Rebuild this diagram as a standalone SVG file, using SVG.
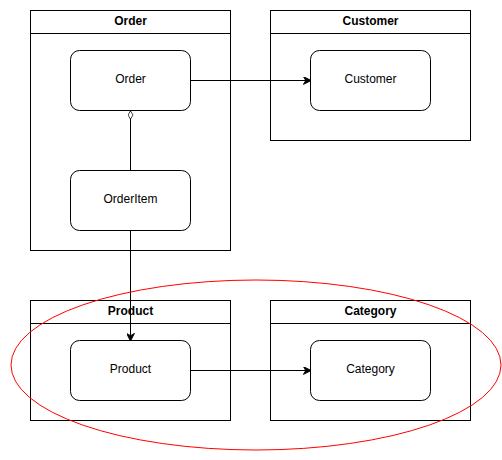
<svg xmlns="http://www.w3.org/2000/svg" width="502" height="460" viewBox="0 0 502 460">
  <style>
    .frame { fill: #ffffff; stroke: #000000; stroke-width: 1; }
    .node { fill: #ffffff; stroke: #000000; stroke-width: 1; }
    .title { font-family: "Liberation Sans", Arial, sans-serif; font-size: 12px; font-weight: bold; fill: #000000; text-anchor: middle; }
    .label { font-family: "Liberation Sans", Arial, sans-serif; font-size: 12px; fill: #000000; text-anchor: middle; }
    .edge { fill: none; stroke: #000000; stroke-width: 1; }
  </style>
  <defs>
    <marker id="arrow" viewBox="0 0 10 10" refX="9" refY="5" markerWidth="8" markerHeight="8" markerUnits="userSpaceOnUse" orient="auto">
      <path d="M0,0 L10,5 L0,10 L3,5 Z" fill="#000000" stroke="#000000" stroke-width="1"/>
    </marker>
    <marker id="diamond" viewBox="0 0 12 8" refX="0" refY="4" markerWidth="10" markerHeight="6" markerUnits="userSpaceOnUse" orient="auto">
      <path d="M0.5,4 L6,0.7 L11.5,4 L6,7.3 Z" fill="#ffffff" stroke="#000000" stroke-width="1"/>
    </marker>
  </defs>

  <!-- package frames -->
  <g id="pkg-order">
    <rect class="frame" x="30.5" y="10.5" width="200" height="240"/>
    <line class="frame" x1="30.5" y1="33.5" x2="230.5" y2="33.5"/>
    <text class="title" x="130.5" y="25">Order</text>
  </g>
  <g id="pkg-customer">
    <rect class="frame" x="270.5" y="10.5" width="200" height="130"/>
    <line class="frame" x1="270.5" y1="33.5" x2="470.5" y2="33.5"/>
    <text class="title" x="370.5" y="25">Customer</text>
  </g>
  <g id="pkg-product">
    <rect class="frame" x="30.5" y="300.5" width="200" height="120"/>
    <line class="frame" x1="30.5" y1="323.5" x2="230.5" y2="323.5"/>
    <text class="title" x="130.5" y="315">Product</text>
  </g>
  <g id="pkg-category">
    <rect class="frame" x="270.5" y="300.5" width="200" height="120"/>
    <line class="frame" x1="270.5" y1="323.5" x2="470.5" y2="323.5"/>
    <text class="title" x="370.5" y="315">Category</text>
  </g>

  <!-- classes -->
  <g id="order">
    <rect class="node" x="70.5" y="50.5" width="120" height="60" rx="9" ry="9"/>
    <text class="label" x="130.5" y="83">Order</text>
  </g>
  <g id="customer">
    <rect class="node" x="310.5" y="50.5" width="120" height="60" rx="9" ry="9"/>
    <text class="label" x="370.5" y="83">Customer</text>
  </g>
  <g id="orderitem">
    <rect class="node" x="70.5" y="170.5" width="120" height="60" rx="9" ry="9"/>
    <text class="label" x="130.5" y="203">OrderItem</text>
  </g>
  <g id="product">
    <rect class="node" x="70.5" y="340.5" width="120" height="60" rx="9" ry="9"/>
    <text class="label" x="130.5" y="373">Product</text>
  </g>
  <g id="category">
    <rect class="node" x="310.5" y="340.5" width="120" height="60" rx="9" ry="9"/>
    <text class="label" x="370.5" y="373">Category</text>
  </g>

  <!-- connectors -->
  <g id="connectors">
    <path class="edge" d="M190.5,80.5 L310.5,80.5" marker-end="url(#arrow)"/>
    <path class="edge" d="M130.5,110.5 L130.5,170.5" marker-start="url(#diamond)"/>
    <path class="edge" d="M130.5,230.5 L130.5,340.5" marker-end="url(#arrow)"/>
    <path class="edge" d="M190.5,370.5 L310.5,370.5" marker-end="url(#arrow)"/>
  </g>

  <!-- highlight ring -->
  <g id="highlight">
    <ellipse cx="256" cy="365" rx="245" ry="85" fill="none" stroke="#ff0000" stroke-width="1"/>
  </g>
</svg>
